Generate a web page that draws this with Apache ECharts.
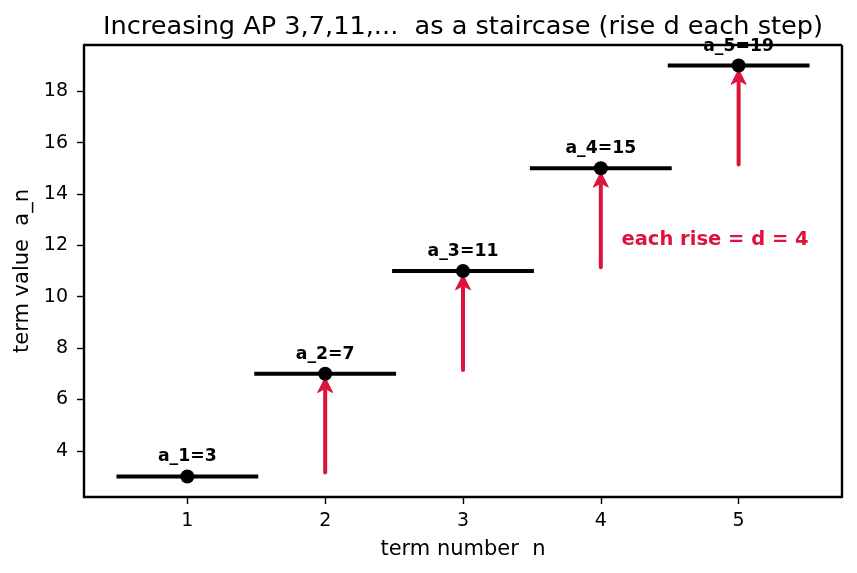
<!DOCTYPE html>
<html>
<head>
<meta charset="utf-8">
<script src="https://cdn.jsdelivr.net/npm/echarts@6/dist/echarts.min.js"></script>
<style>
  html, body { margin: 0; padding: 0; background: #fff; }
  #chart { width: 857px; height: 573px; }
</style>
</head>
<body>
<div id="chart"></div>
<script>
// data
const termNumbers = [1, 2, 3, 4, 5]
const termValues = [3, 7, 11, 15, 19]
const xTicks = [1, 2, 3, 4, 5]
const yTicks = [4, 6, 8, 10, 12, 14, 16, 18]
const commonDiff = 4
const riseColor = '#dc143c'
const font = 'DejaVu Sans'

const chart = echarts.init(document.getElementById('chart'))

// steps: [n, a_n]
const stepData = termNumbers.map((n, i) => [n, termValues[i]])
// arrows: [n, from, to]
const arrowData = termNumbers.slice(1).map((n, i) => [n, termValues[i] + 0.15, termValues[i + 1] - 0.15])

const option = {
  animation: false,
  title: {
    text: 'Increasing AP 3,7,11,...  as a staircase (rise d each step)',
    left: 458,
    top: 9,
    textAlign: 'center',
    textStyle: { fontFamily: font, fontSize: 25.6, fontWeight: 'normal', color: '#000' }
  },
  grid: { left: 84, right: 15, top: 45, bottom: 76 },
  xAxis: {
    type: 'value',
    min: 0.25,
    max: 5.75,
    name: 'term number  n',
    nameLocation: 'middle',
    nameGap: 42,
    nameTextStyle: { fontFamily: font, fontSize: 21, color: '#000' },
    axisLine: { show: true, onZero: false, lineStyle: { color: '#000', width: 2.4 } },
    axisTick: { show: true, customValues: xTicks, length: 7, lineStyle: { color: '#000', width: 1.4 } },
    axisLabel: { customValues: xTicks, fontFamily: font, fontSize: 19, color: '#000', margin: 15 },
    splitLine: { show: false }
  },
  yAxis: {
    type: 'value',
    min: 2.2,
    max: 19.8,
    name: 'term value  a_n',
    nameLocation: 'middle',
    nameGap: 51,
    nameTextStyle: { fontFamily: font, fontSize: 21, color: '#000' },
    axisLine: { show: true, onZero: false, lineStyle: { color: '#000', width: 2.4 } },
    axisTick: { show: true, customValues: yTicks, length: 7, lineStyle: { color: '#000', width: 1.4 } },
    axisLabel: { customValues: yTicks, fontFamily: font, fontSize: 19, color: '#000', margin: 16 },
    splitLine: { show: false }
  },
  series: [
    {
      // box top/right spines
      type: 'custom',
      silent: true,
      data: [0],
      renderItem: (params, api) => {
        const p0 = api.coord([0.25, 19.8])
        const p1 = api.coord([5.75, 2.2])
        return {
          type: 'group',
          children: [
            { type: 'line', shape: { x1: p0[0], y1: p0[1], x2: p1[0], y2: p0[1] }, style: { stroke: '#000', lineWidth: 2.4 } },
            { type: 'line', shape: { x1: p1[0], y1: p0[1], x2: p1[0], y2: p1[1] }, style: { stroke: '#000', lineWidth: 2.4 } }
          ]
        }
      }
    },
    {
      // horizontal treads
      type: 'custom',
      silent: true,
      data: stepData,
      renderItem: (params, api) => {
        const a = api.coord([api.value(0) - 0.5, api.value(1)])
        const b = api.coord([api.value(0) + 0.5, api.value(1)])
        return {
          type: 'line',
          shape: { x1: a[0], y1: a[1], x2: b[0], y2: b[1] },
          style: { stroke: '#000', lineWidth: 4, lineCap: 'square' }
        }
      }
    },
    {
      // rise arrows
      type: 'custom',
      silent: true,
      data: arrowData,
      renderItem: (params, api) => {
        const s = api.coord([api.value(0), api.value(1)])
        const e = api.coord([api.value(0), api.value(2)])
        const head = 15
        const half = 7.5
        return {
          type: 'group',
          children: [
            {
              type: 'line',
              shape: { x1: s[0], y1: s[1], x2: e[0], y2: e[1] + head - 2 },
              style: { stroke: riseColor, lineWidth: 4, lineCap: 'round' }
            },
            {
              type: 'polygon',
              shape: { points: [[e[0], e[1]], [e[0] - half, e[1] + head], [e[0], e[1] + head - 4], [e[0] + half, e[1] + head]] },
              style: { fill: riseColor, stroke: riseColor, lineWidth: 1, lineJoin: 'round' }
            }
          ]
        }
      }
    },
    {
      type: 'scatter',
      data: stepData,
      symbolSize: 14,
      itemStyle: { color: '#000', opacity: 1 },
      label: {
        show: true,
        position: 'top',
        distance: 4,
        formatter: (p) => 'a_' + p.value[0] + '=' + p.value[1],
        fontFamily: font,
        fontSize: 17.3,
        fontWeight: 'bold',
        color: '#000'
      },
      z: 5
    },
    {
      type: 'scatter',
      data: [[4.15, 12.2]],
      symbolSize: 0,
      itemStyle: { opacity: 1 },
      label: {
        show: true,
        position: 'right',
        distance: 0,
        formatter: 'each rise = d = ' + commonDiff,
        fontFamily: font,
        fontSize: 19.5,
        fontWeight: 'bold',
        color: riseColor
      }
    }
  ]
}

chart.setOption(option)
</script>
</body>
</html>
